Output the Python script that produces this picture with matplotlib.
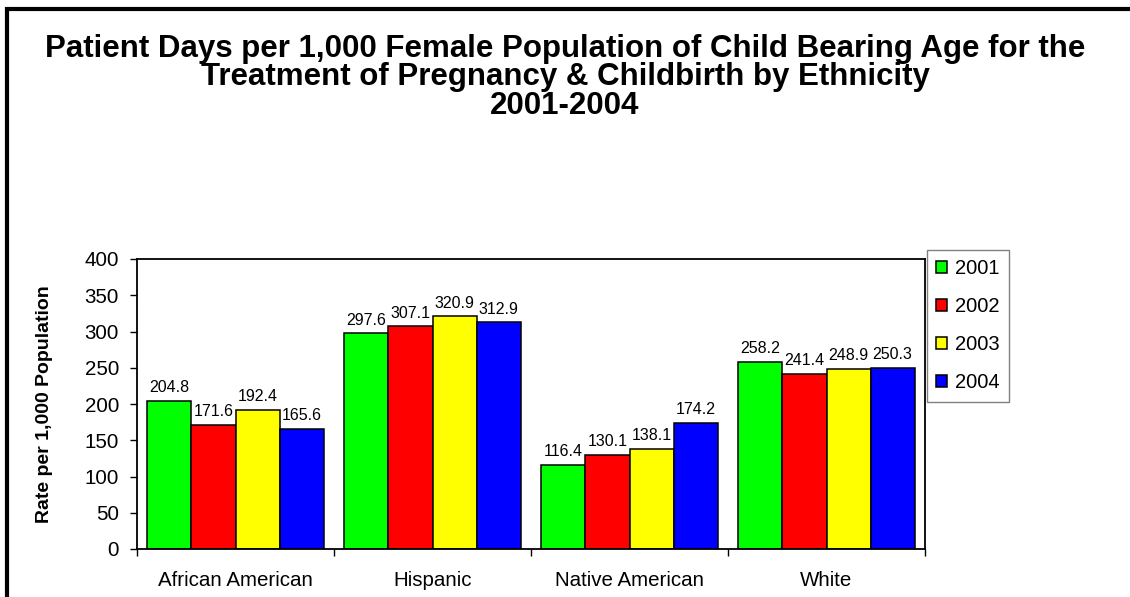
import matplotlib
matplotlib.use('Agg')
import matplotlib.pyplot as plt
from matplotlib.patches import Rectangle
import numpy as np

plt.rcParams['font.family'] = ['Liberation Sans', 'DejaVu Sans']

groups = ['African American', 'Hispanic', 'Native American', 'White']
years = ['2001', '2002', '2003', '2004']
rate_2001 = [204.8, 297.6, 116.4, 258.2]
rate_2002 = [171.6, 307.1, 130.1, 241.4]
rate_2003 = [192.4, 320.9, 138.1, 248.9]
rate_2004 = [165.6, 312.9, 174.2, 250.3]
colors = ['#00ff00', '#ff0000', '#ffff00', '#0000ff']

series = [rate_2001, rate_2002, rate_2003, rate_2004]

fig = plt.figure(figsize=(11.3, 5.97), dpi=100)
ax = fig.add_axes([137/1130, 48/597, 788/1130, 290/597])

x = np.arange(len(groups))
w = 0.2234
for i, vals in enumerate(series):
    pos = x + (i - 1.5) * w
    bars = ax.bar(pos, vals, w, color=colors[i], edgecolor='black', linewidth=1.1, label=years[i])
    for b, v in zip(bars, vals):
        ax.annotate('%.1f' % v, (b.get_x() + b.get_width() / 2, v), xytext=(0, 4),
                    textcoords='offset points', ha='center', va='bottom', fontsize=11.5)

ax.set_xlim(-0.5, 3.5)
ax.set_ylim(0, 400)
ax.set_yticks(range(0, 401, 50))
ax.set_xticks(x)
ax.set_xticklabels(groups)
ax.set_xticks(np.arange(-0.5, 3.6, 1), minor=True)
ax.tick_params(axis='x', which='major', length=0, pad=16, labelsize=14.8)
ax.tick_params(axis='x', which='minor', length=5, width=1, direction='out')
ax.tick_params(axis='y', length=5, width=1, direction='out', pad=8, labelsize=14.8)
for s in ax.spines.values():
    s.set_linewidth(1.3)

fig.text(45/1130, 1 - 404/597, 'Rate per 1,000 Population', rotation=90,
         ha='center', va='center', fontsize=14, fontweight='bold')

fig.text(0.5, 1 - 34/597,
         'Patient Days per 1,000 Female Population of Child Bearing Age for the\n'
         'Treatment of Pregnancy & Childbirth by Ethnicity\n2001-2004',
         ha='center', va='top', fontsize=22.5, fontweight='bold', linespacing=0.93)

leg = fig.legend(loc='upper left', bbox_to_anchor=(927/1130, 1 - 250/597), fontsize=14.5,
                 handlelength=0.55, handleheight=0.55, handletextpad=0.4, labelspacing=0.95,
                 borderpad=0.45, borderaxespad=0, fancybox=False, framealpha=1,
                 edgecolor='#808080')
leg.get_frame().set_linewidth(1)

fig.patches.append(Rectangle((7/1130, -0.1), 1.1, 1.1 - 9/597, transform=fig.transFigure,
                             fill=False, edgecolor='black', linewidth=3, clip_on=False))

fig.savefig('out.png', dpi=100, facecolor='white')
